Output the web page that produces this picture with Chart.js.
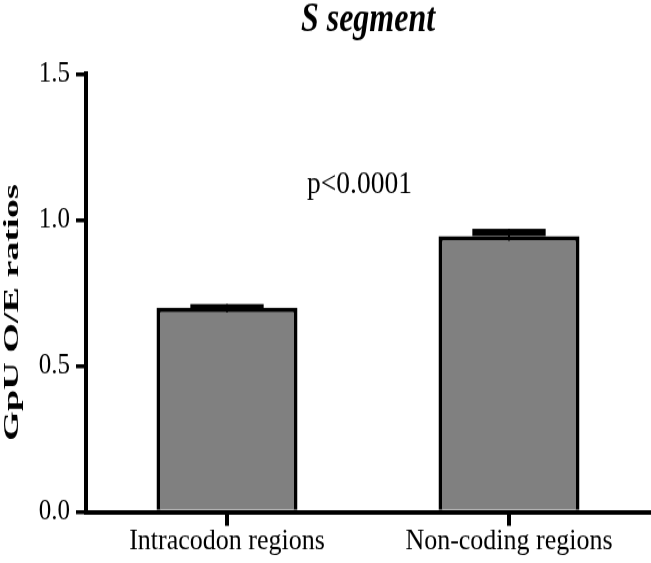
<!DOCTYPE html>
<html lang="en">
<head>
    <meta charset="UTF-8">
    <title>S segment</title>
    <style>
        body {
            margin: 0;
            padding: 0;
            background: #fff;
        }
        /* the reference is slightly stretched in height, so the canvas is too */
        #chart {
            display: block;
            width: 651px !important;
            height: 563px !important;
        }
    </style>
</head>
<body>
    <canvas id="chart" width="651" height="490"></canvas>

    <script src="https://cdn.jsdelivr.net/npm/chart.js"></script>
    <script>
        const categories = ['Intracodon regions', 'Non-coding regions'];
        const ratios = [0.70, 0.945];
        const sem = [0.012, 0.025];
        const yTicks = [0, 0.5, 1.0, 1.5];
        const titleText = 'S segment';
        const yTitle = 'GpU O/E ratios';
        const pText = 'p<0.0001';

        const serif = '"Liberation Serif", "Times New Roman", serif';

        // error bars drawn as a black band from mean to mean + SEM
        const errorBars = {
            id: 'errorBars',
            afterDatasetsDraw(chart) {
                const ctx = chart.ctx;
                const y = chart.scales.y;
                const meta = chart.getDatasetMeta(0);
                ctx.save();
                ctx.fillStyle = '#000';
                meta.data.forEach((bar, i) => {
                    const top = y.getPixelForValue(ratios[i] + sem[i]);
                    const bottom = y.getPixelForValue(ratios[i]);
                    const w = bar.width * 0.52;
                    ctx.fillRect(bar.x - w / 2, top, w, Math.max(bottom - top, 3.5));
                    ctx.fillRect(bar.x - 1, top, 2, bottom - top + 4);
                });
                ctx.restore();
            }
        };

        const labels = {
            id: 'labels',
            afterDraw(chart) {
                const ctx = chart.ctx;
                const area = chart.chartArea;
                const x = chart.scales.x;
                const y = chart.scales.y;
                ctx.save();
                ctx.fillStyle = '#000';
                ctx.textAlign = 'center';

                // title, a little taller than wide like the original
                ctx.save();
                ctx.font = 'italic bold 32px ' + serif;
                ctx.textBaseline = 'alphabetic';
                ctx.translate((area.left + area.right) / 2, 27);
                ctx.scale(1, 1.13);
                ctx.fillText(titleText, 0, 0);
                ctx.restore();

                ctx.font = '27.5px ' + serif;
                ctx.textBaseline = 'middle';
                ctx.fillText(pText, x.getPixelForValue(0.47), y.getPixelForValue(1.12));

                // y axis title, condensed lettering
                ctx.save();
                ctx.translate(12.5, 272);
                ctx.rotate(-Math.PI / 2);
                ctx.scale(1.51, 1);
                ctx.font = 'bold 22px ' + serif;
                ctx.fillText(yTitle, 0, 0);
                ctx.restore();

                ctx.restore();
            }
        };

        new Chart(document.getElementById('chart'), {
            type: 'bar',
            data: {
                labels: categories,
                datasets: [{
                    data: ratios,
                    backgroundColor: '#808080',
                    borderColor: '#000',
                    borderWidth: 4,
                    borderSkipped: 'bottom',
                    barPercentage: 0.5,
                    categoryPercentage: 1.0
                }]
            },
            options: {
                responsive: false,
                animation: false,
                events: [],
                layout: {
                    padding: { top: 64.4, left: 0, right: 1, bottom: 0 }
                },
                plugins: {
                    legend: { display: false },
                    tooltip: { enabled: false }
                },
                scales: {
                    x: {
                        afterFit(scale) {
                            scale.height = 44.4;
                        },
                        grid: {
                            offset: false,
                            drawOnChartArea: false,
                            tickLength: 12,
                            lineWidth: 4,
                            color: '#000'
                        },
                        border: { width: 4, color: '#000' },
                        ticks: {
                            color: '#000',
                            padding: 1,
                            maxRotation: 0,
                            font: { family: serif, size: 26, lineHeight: 1 }
                        }
                    },
                    y: {
                        min: 0,
                        max: 1.5,
                        afterBuildTicks(scale) {
                            scale.ticks = yTicks.map(v => ({ value: v }));
                        },
                        afterFit(scale) {
                            scale.width = 86;
                        },
                        grid: {
                            drawOnChartArea: false,
                            tickLength: 10,
                            lineWidth: 3.5,
                            color: '#000'
                        },
                        border: { width: 4, color: '#000' },
                        ticks: {
                            color: '#000',
                            padding: 6,
                            font: { family: serif, size: 25 },
                            callback: v => Number(v).toFixed(1)
                        }
                    }
                }
            },
            plugins: [errorBars, labels]
        });
    </script>
</body>
</html>
